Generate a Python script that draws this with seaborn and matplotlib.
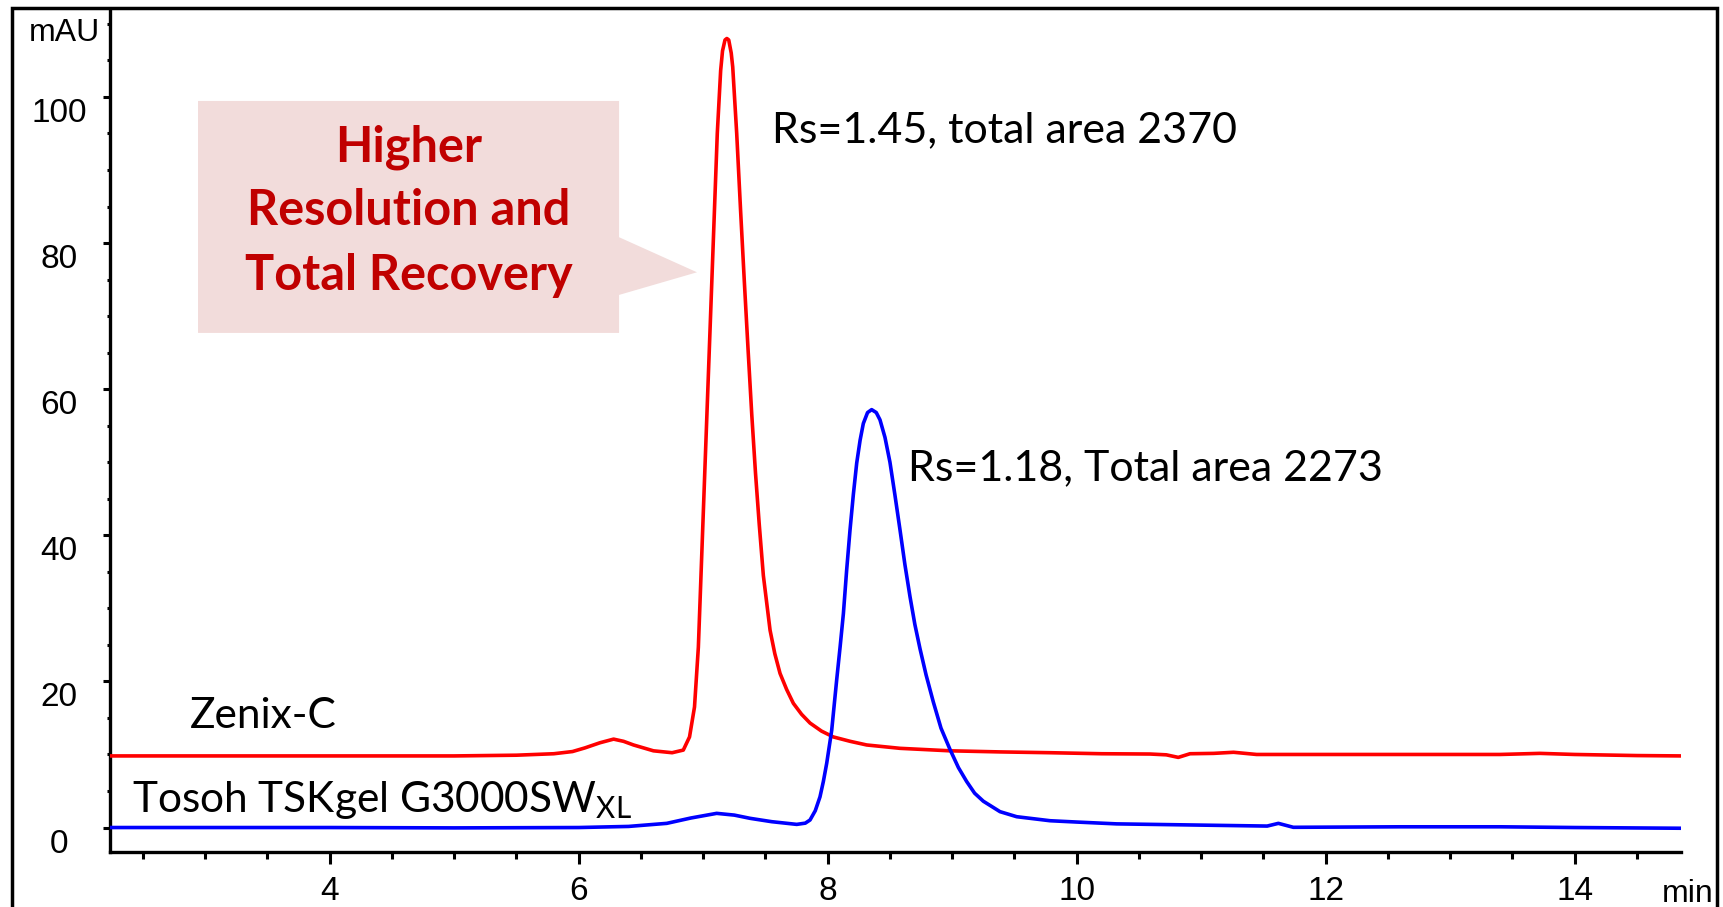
import pandas as pd
import matplotlib.pyplot as plt
import seaborn as sns
from matplotlib.patches import Polygon, Rectangle
from matplotlib.transforms import ScaledTranslation

# chromatogram points (time in min, signal in mAU)
zenix_time = [2.235, 3.0, 4.0, 5.0, 5.5, 5.8, 5.95, 6.05, 6.17, 6.28, 6.36, 6.44,
              6.6, 6.75, 6.84, 6.89, 6.93, 6.961, 6.988, 7.014, 7.04, 7.066, 7.09,
              7.113, 7.14, 7.155, 7.175, 7.19, 7.205, 7.225, 7.237, 7.269, 7.30,
              7.33, 7.36, 7.39, 7.42, 7.45, 7.483, 7.537, 7.575, 7.617, 7.67, 7.724,
              7.79, 7.858, 7.95, 8.045, 8.18, 8.313, 8.581,
              8.982, 9.384, 9.786, 10.2, 10.59, 10.72, 10.816, 10.91, 11.1, 11.26,
              11.445, 12.0, 12.6, 13.4, 13.72, 14.0, 14.5, 14.86]
zenix_signal = [9.8, 9.8, 9.8, 9.8, 9.9, 10.1, 10.4, 10.9, 11.6, 12.1, 11.8, 11.3,
                10.5, 10.24, 10.6, 12.4, 16.5, 24.7, 37.2, 49.3, 61.3, 73.3, 84.4,
                95.0, 103.6, 106.3, 107.8, 108.0, 107.8, 106.0, 104.1, 95.0, 84.5,
                74.8, 65.5, 56.5, 48.5, 41.5, 34.5, 27.0, 23.8, 21.1, 18.9, 17.0,
                15.5, 14.3, 13.2, 12.4, 11.8, 11.3, 10.84,
                10.5, 10.35, 10.24, 10.1, 10.06, 9.95, 9.6, 10.1, 10.15, 10.3,
                10.0, 10.0, 10.0, 10.0, 10.15, 10.0, 9.85, 9.8]

tosoh_time = [2.235, 3.0, 4.0, 5.0, 6.0, 6.4, 6.707, 6.9, 7.108, 7.25, 7.376, 7.55,
              7.751, 7.82, 7.858, 7.9, 7.938, 7.965, 7.992, 8.032, 8.072, 8.10,
              8.126, 8.152, 8.179, 8.206, 8.233, 8.26, 8.286, 8.32, 8.353, 8.39,
              8.42, 8.46, 8.5, 8.54, 8.581, 8.62, 8.661, 8.70, 8.741, 8.79, 8.848,
              8.91, 8.982, 9.05, 9.116, 9.18, 9.25, 9.384, 9.518, 9.786, 10.0, 10.32,
              11.12, 11.53, 11.62, 11.74, 12.6, 13.4, 14.0, 14.86]
tosoh_signal = [0.0, 0.0, 0.0, -0.05, 0.0, 0.15, 0.57, 1.3, 1.94, 1.7, 1.26, 0.8,
                0.43, 0.6, 1.03, 2.3, 4.2, 6.3, 8.8, 13.3, 20.2, 24.8,
                29.3, 35.2, 40.7, 45.6, 49.9, 53.0, 55.3, 56.8, 57.2, 56.8,
                55.8, 53.4, 50.0, 45.5, 40.7, 36.0, 31.6, 27.8, 24.5, 20.9, 17.2,
                13.6, 10.7, 8.2, 6.3, 4.7, 3.6, 2.17, 1.48, 0.93, 0.75, 0.5,
                0.3, 0.2, 0.57, 0.03, 0.1, 0.1, 0.0, -0.1]

callout_lines = ['Higher', 'Resolution and', 'Total Recovery']

df = pd.concat([
    pd.DataFrame({'time': zenix_time, 'signal': zenix_signal, 'column': 'Zenix-C'}),
    pd.DataFrame({'time': tosoh_time, 'signal': tosoh_signal, 'column': 'Tosoh'}),
])

sns.set_theme(style='ticks')
plt.rcParams['font.family'] = ['Liberation Sans', 'DejaVu Sans']

W, H = 1723, 907
fig = plt.figure(figsize=(W / 100, H / 100), dpi=100)
ax = fig.add_axes([110 / W, 1 - 852 / H, 1571 / W, 842 / H])

sns.lineplot(data=df, x='time', y='signal', hue='column',
             palette={'Zenix-C': '#ff0000', 'Tosoh': '#0000ff'},
             estimator=None, sort=False, linewidth=2.6, legend=False, ax=ax, zorder=3)

ax.set_xlim(2.235, 14.854)
ax.set_ylim(-3.35, 111.9)
ax.set_xlabel('')
ax.set_ylabel('')

ax.set_xticks([4, 6, 8, 10, 12, 14])
ax.set_xticks([x / 2 for x in range(5, 30)], minor=True)
ax.set_yticks([0, 20, 40, 60, 80, 100])
ax.set_yticks(list(range(0, 111, 5)), minor=True)

for side in ['top', 'right']:
    ax.spines[side].set_visible(False)
for side in ['left', 'bottom']:
    ax.spines[side].set_linewidth(2.4)
    ax.spines[side].set_color('black')

ax.tick_params(axis='x', which='major', length=8.6, width=2.2, pad=9,
               labelsize=24, colors='black')
ax.tick_params(axis='x', which='minor', length=4.7, width=2.2, colors='black')
ax.tick_params(axis='y', which='major', length=5, width=2.2, pad=31.7,
               labelsize=24, colors='black')
ax.tick_params(axis='y', which='minor', length=2.5, width=2.2, colors='black')
for lab in ax.get_yticklabels():
    lab.set_ha('center')
    lab.set_transform(lab.get_transform() + ScaledTranslation(0, -0.13, fig.dpi_scale_trans))

# callout box with pointer
callout = Polygon([(2.942, 99.45), (6.324, 99.45), (6.324, 80.8), (6.95, 76.0),
                   (6.324, 72.9), (6.324, 67.7), (2.942, 67.7)],
                  closed=True, facecolor='#f2dcdb', edgecolor='none', zorder=1)
ax.add_patch(callout)
for line, yb in zip(callout_lines, [91.1, 82.5, 73.6]):
    ax.text(4.637, yb, line, ha='center', va='baseline', fontsize=35,
            fontweight='bold', color='#c00000', family='Lato', zorder=2)

ax.text(7.55, 93.8, 'Rs=1.45, total area 2370', fontsize=31, family='Lato',
        va='baseline', color='black')
ax.text(8.645, 47.6, 'Rs=1.18, Total area 2273', fontsize=31, family='Lato',
        va='baseline', color='black')
ax.text(2.878, 13.6, 'Zenix-C', fontsize=30.5, family='Lato', va='baseline', color='black')
ax.text(2.412, 2.12, r'Tosoh TSKgel G3000SW$_\mathregular{XL}$', fontsize=30.5,
        family='Lato', va='baseline', color='black')

fig.text(100 / W, 1 - 33 / H, 'mAU', ha='right', va='center', fontsize=23, color='black')
fig.text(1662 / W, 1 - 902 / H, 'min', ha='left', va='baseline', fontsize=23, color='black')

# outer frame around the picture
fig.add_artist(Rectangle((12 / W, -0.1), (1717 - 12) / W, 1 - 8 / H + 0.1,
                         transform=fig.transFigure, fill=False, lw=2.5,
                         edgecolor='black', clip_on=False))

fig.savefig('out.png', dpi=100)
